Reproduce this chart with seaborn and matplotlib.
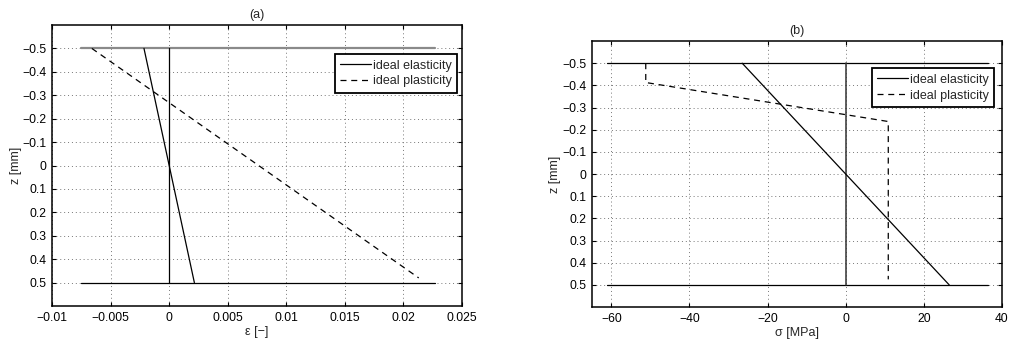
import matplotlib
matplotlib.use("Agg")
import matplotlib.pyplot as plt
import seaborn as sns
import pandas as pd

# Through-thickness coordinate of the layer surfaces [mm]
z_surfaces = [-0.5, 0.5]

# (a) strain distributions
eps_elastic = [-0.00215, 0.00215]
z_eps_elastic = [-0.5, 0.5]
eps_plastic = [-0.0066, 0.0213]
z_eps_plastic = [-0.5, 0.48]
eps_surface_span = [-0.0075, 0.0227]

# (b) stress distributions
sigma_elastic = [-26.5, 26.5]
z_sigma_elastic = [-0.5, 0.5]
sigma_plastic = [-51.2, -51.2, 10.9, 10.9]
z_sigma_plastic = [-0.5, -0.413, -0.237, 0.475]
sigma_surface_span = [-61.2, 36.5]

# Axis ticks and labels
z_ticks = [-0.5, -0.4, -0.3, -0.2, -0.1, 0, 0.1, 0.2, 0.3, 0.4, 0.5]
z_ticklabels = ["\u22120.5", "\u22120.4", "\u22120.3", "\u22120.2", "\u22120.1",
                "0", "0.1", "0.2", "0.3", "0.4", "0.5"]
eps_ticks = [-0.01, -0.005, 0, 0.005, 0.01, 0.015, 0.02, 0.025]
eps_ticklabels = ["\u22120.01", "\u22120.005", "0", "0.005", "0.01", "0.015", "0.02", "0.025"]
sigma_ticks = [-60, -40, -20, 0, 20, 40]
sigma_ticklabels = ["\u221260", "\u221240", "\u221220", "0", "20", "40"]

sns.set_theme(style="ticks")
plt.rcParams["font.family"] = ["Liberation Sans", "DejaVu Sans"]
plt.rcParams["axes.unicode_minus"] = True

fig = plt.figure(figsize=(10.1, 3.45), dpi=100)
ax_a = fig.add_axes([0.0515, 0.113, 0.406, 0.8145])
ax_b = fig.add_axes([0.586, 0.110, 0.406, 0.771])

DASH = (0, (4.8, 3.8))


def line(ax, x, y, **kw):
    df = pd.DataFrame({"x": x, "y": y})
    sns.lineplot(data=df, x="x", y="y", ax=ax, sort=False, estimator=None, **kw)


def style_axes(ax, xticks, xticklabels, xlim, xlabel, title):
    ax.set_xlim(*xlim)
    ax.set_ylim(0.6, -0.6)
    ax.set_xticks(xticks)
    ax.set_xticklabels(xticklabels)
    ax.set_yticks(z_ticks)
    ax.set_yticklabels(z_ticklabels)
    ax.tick_params(direction="in", length=3, width=0.8, top=True, right=True,
                   labelsize=8.7, colors="black", pad=4)
    ax.grid(True, linestyle=(0, (1, 3)), color="#777777", linewidth=0.7)
    ax.set_axisbelow(True)
    for sp in ax.spines.values():
        sp.set_linewidth(1.1)
        sp.set_color("black")
    ax.set_xlabel(xlabel, fontsize=9, labelpad=2)
    ax.set_ylabel("z [mm]", fontsize=9, labelpad=0.5)
    ax.set_title(title, fontsize=9, pad=5)
    leg = ax.legend(loc="upper right", fontsize=9, frameon=True, fancybox=False,
                    handlelength=2.5, handletextpad=0.1, labelspacing=0.3,
                    borderpad=0.45, borderaxespad=0)
    leg.get_frame().set_edgecolor("black")
    leg.get_frame().set_linewidth(1.3)
    leg.get_frame().set_alpha(1)
    return leg


# ---- (a) strain ----
line(ax_a, eps_surface_span, [z_surfaces[0]] * 2, color="#8a8a8a", linewidth=1.6)
line(ax_a, eps_surface_span, [z_surfaces[1]] * 2, color="black", linewidth=0.9)
line(ax_a, [0, 0], z_surfaces, color="black", linewidth=0.9)
line(ax_a, eps_elastic, z_eps_elastic, color="black", linewidth=0.9, label="ideal elasticity")
line(ax_a, eps_plastic, z_eps_plastic, color="black", linewidth=0.9, linestyle=DASH,
     label="ideal plasticity")
leg_a = style_axes(ax_a, eps_ticks, eps_ticklabels, (-0.01, 0.025), "\u03b5 [\u2212]", "(a)")
leg_a.set_bbox_to_anchor((0.988, 0.897), transform=ax_a.transAxes)

# ---- (b) stress ----
line(ax_b, sigma_surface_span, [z_surfaces[0]] * 2, color="black", linewidth=0.9)
line(ax_b, sigma_surface_span, [z_surfaces[1]] * 2, color="black", linewidth=0.9)
line(ax_b, [0, 0], z_surfaces, color="#333333", linewidth=1.1)
line(ax_b, sigma_elastic, z_sigma_elastic, color="black", linewidth=0.9, label="ideal elasticity")
line(ax_b, sigma_plastic, z_sigma_plastic, color="black", linewidth=0.9, linestyle=DASH,
     label="ideal plasticity")
leg_b = style_axes(ax_b, sigma_ticks, sigma_ticklabels, (-65, 40), "\u03c3 [MPa]", "(b)")
leg_b.set_bbox_to_anchor((0.981, 0.898), transform=ax_b.transAxes)

fig.savefig("out.png", dpi=100)
